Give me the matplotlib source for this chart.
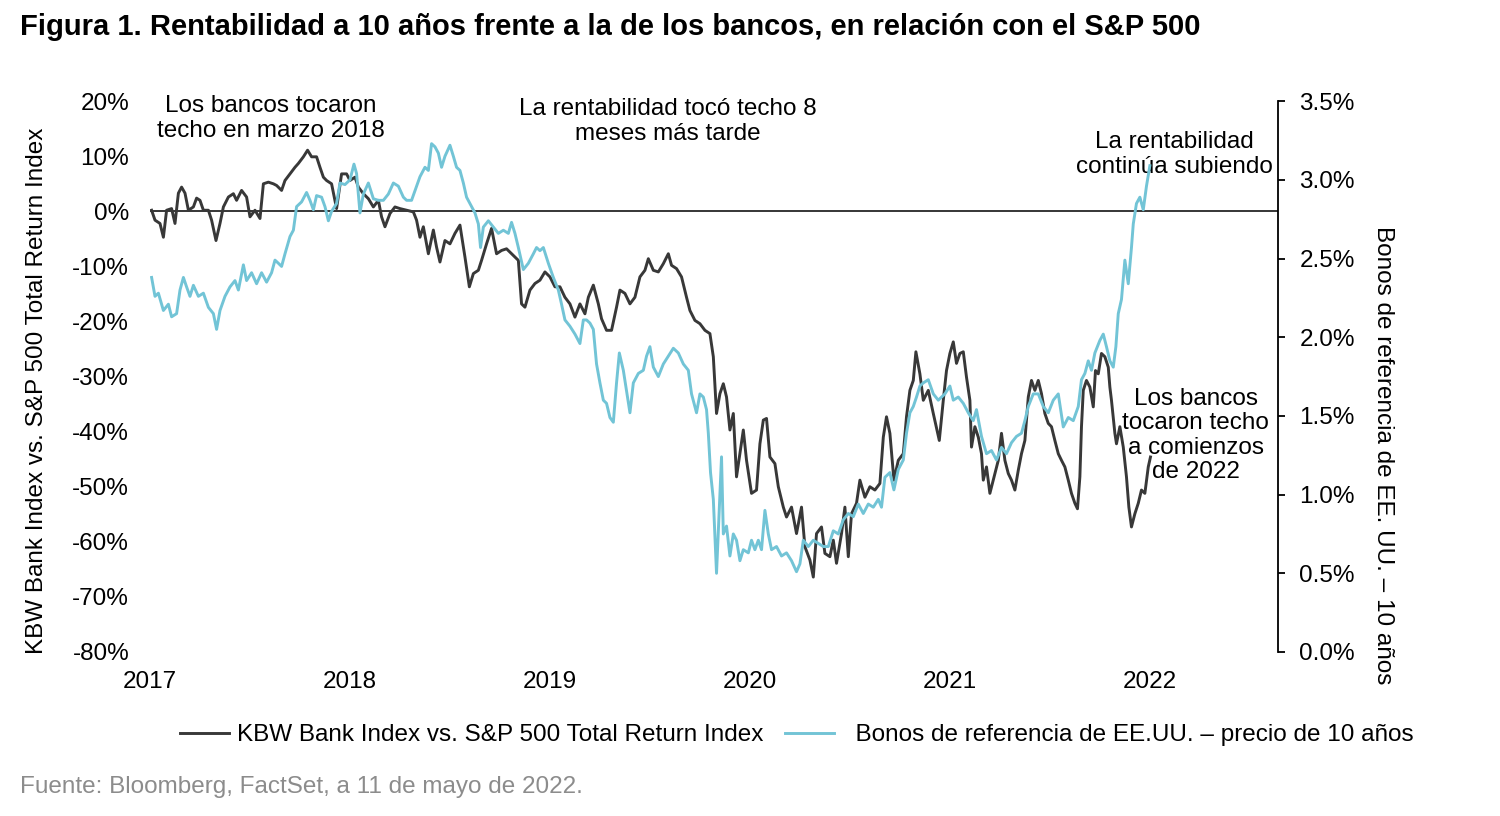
import matplotlib
matplotlib.use("Agg")
import matplotlib.pyplot as plt
from matplotlib.ticker import FuncFormatter
import numpy as np

plt.rcParams["font.family"] = ["Liberation Sans", "DejaVu Sans"]

# KBW Bank Index vs. S&P 500 Total Return Index (%)
bank_years = [2017.008, 2017.025, 2017.05, 2017.067, 2017.083, 2017.108, 2017.125, 2017.142, 2017.158, 2017.175,
              2017.192, 2017.217, 2017.233, 2017.25, 2017.267, 2017.292, 2017.308, 2017.33, 2017.35, 2017.367,
              2017.392, 2017.417, 2017.433, 2017.458, 2017.483, 2017.5, 2017.525, 2017.55, 2017.567, 2017.592,
              2017.617, 2017.633, 2017.658, 2017.675, 2017.70, 2017.725, 2017.742, 2017.767, 2017.788, 2017.808,
              2017.833, 2017.85, 2017.867, 2017.883, 2017.908, 2017.933, 2017.958, 2017.983, 2018.0, 2018.025,
              2018.042, 2018.067, 2018.092, 2018.117, 2018.142, 2018.158, 2018.175, 2018.20, 2018.225, 2018.25,
              2018.283, 2018.317, 2018.333, 2018.35, 2018.367, 2018.392, 2018.417, 2018.433, 2018.45, 2018.475,
              2018.50, 2018.525, 2018.55, 2018.575, 2018.597, 2018.617, 2018.642, 2018.658, 2018.683, 2018.708,
              2018.733, 2018.758, 2018.783, 2018.808, 2018.842, 2018.858, 2018.875, 2018.90, 2018.925, 2018.95,
              2018.975, 2019.0, 2019.025, 2019.05, 2019.075, 2019.10, 2019.125, 2019.15, 2019.175, 2019.192,
              2019.217, 2019.242, 2019.258, 2019.283, 2019.308, 2019.333, 2019.35, 2019.375, 2019.40, 2019.425,
              2019.45, 2019.475, 2019.492, 2019.517, 2019.542, 2019.567, 2019.592, 2019.608, 2019.633, 2019.658,
              2019.683, 2019.70, 2019.725, 2019.75, 2019.775, 2019.80, 2019.817, 2019.833, 2019.85, 2019.867,
              2019.883, 2019.90, 2019.917, 2019.933, 2019.95, 2019.967, 2019.983, 2020.008, 2020.033, 2020.05,
              2020.067, 2020.083, 2020.10, 2020.125, 2020.142, 2020.167, 2020.183, 2020.208, 2020.233, 2020.258,
              2020.275, 2020.30, 2020.317, 2020.333, 2020.358, 2020.375, 2020.40, 2020.417, 2020.433, 2020.458,
              2020.475, 2020.492, 2020.508, 2020.533, 2020.55, 2020.575, 2020.60, 2020.625, 2020.65, 2020.667,
              2020.683, 2020.70, 2020.72, 2020.742, 2020.767, 2020.783, 2020.80, 2020.817, 2020.83, 2020.85,
              2020.867, 2020.892, 2020.917, 2020.947, 2020.967, 2020.983, 2021.0, 2021.017, 2021.033, 2021.05,
              2021.067, 2021.083, 2021.10, 2021.108, 2021.125, 2021.142, 2021.158, 2021.167, 2021.183, 2021.20,
              2021.217, 2021.242, 2021.258, 2021.275, 2021.292, 2021.308, 2021.325, 2021.342, 2021.358, 2021.375,
              2021.392, 2021.408, 2021.425, 2021.442, 2021.458, 2021.475, 2021.492, 2021.508, 2021.525, 2021.542,
              2021.558, 2021.575, 2021.592, 2021.608, 2021.625, 2021.638, 2021.65, 2021.658, 2021.667, 2021.683,
              2021.70, 2021.717, 2021.728, 2021.742, 2021.758, 2021.775, 2021.792, 2021.80, 2021.808, 2021.825,
              2021.833, 2021.85, 2021.867, 2021.883, 2021.895, 2021.908, 2021.925, 2021.942, 2021.958, 2021.975,
              2021.992, 2022.003]
bank_vals = [0.2, -1.6, -2.2, -4.7, 0.2, 0.5, -2.2, 3.3, 4.4, 3.3,
             0.2, 0.8, 2.4, 2.0, 0.2, 0.2, -1.6, -5.3, -2.2, 0.8,
             2.6, 3.2, 2.0, 3.8, 2.6, -1.0, 0.2, -1.3, 5.0, 5.3,
             5.0, 4.7, 3.8, 5.6, 6.8, 8.0, 8.7, 9.9, 11.1, 9.9,
             9.9, 8.0, 6.2, 5.6, 5.0, 0.5, 6.8, 6.8, 5.6, 6.2,
             4.4, 3.2, 2.3, 0.8, 2.0, -1.0, -2.8, -0.4, 0.8, 0.5,
             0.2, -0.1, -1.6, -4.7, -2.8, -7.7, -3.4, -6.5, -9.2, -5.3,
             -5.9, -4.0, -2.5, -8.3, -13.7, -11.3, -10.7, -8.9, -5.9, -3.1,
             -7.7, -7.1, -6.8, -7.7, -8.9, -16.8, -17.4, -14.3, -13.1, -12.5,
             -11.0, -11.9, -13.7, -13.7, -15.6, -16.8, -19.2, -16.8, -18.6, -15.6,
             -13.4, -16.8, -19.5, -21.6, -21.6, -17.4, -14.3, -14.9, -16.8, -15.6,
             -11.9, -10.7, -8.6, -10.7, -11.0, -9.5, -7.7, -9.8, -10.4, -11.9,
             -15.6, -18.0, -19.8, -20.4, -21.6, -22.2, -26.4, -36.7, -33.1, -31.3,
             -33.7, -39.7, -36.7, -48.2, -44.0, -39.7, -45.2, -51.2, -50.6, -42.2,
             -37.9, -37.6, -44.6, -45.8, -50.0, -53.7, -55.5, -53.7, -58.5, -53.7,
             -60.9, -63.3, -66.4, -58.5, -57.3, -62.1, -62.7, -59.7, -63.9, -58.5,
             -53.7, -62.7, -54.9, -53.0, -48.8, -51.9, -50.0, -50.6, -49.4, -41.0,
             -37.3, -40.3, -48.8, -45.2, -44.0, -37.3, -32.5, -30.7, -25.5, -29.5,
             -34.3, -32.5, -36.7, -41.6, -34.3, -28.9, -25.8, -23.7, -27.6, -25.8,
             -25.5, -30.1, -34.3, -42.8, -39.1, -41.0, -44.0, -48.8, -46.4, -51.2,
             -48.8, -45.2, -40.3, -45.2, -47.6, -48.8, -50.6, -47.0, -44.0, -41.6,
             -33.7, -30.7, -32.5, -30.7, -33.1, -36.7, -38.5, -39.1, -41.6, -44.0,
             -45.2, -46.4, -48.8, -51.2, -53.0, -54.0, -48.2, -39.1, -32.5, -30.7,
             -31.9, -35.5, -28.9, -29.5, -25.8, -26.4, -28.3, -31.9, -34.3, -40.3,
             -42.2, -39.1, -42.8, -48.2, -53.7, -57.3, -54.9, -53.0, -50.6, -51.2,
             -46.4, -44.6]

# US 10-year benchmark yield (%)
yield_years = [2017.008, 2017.025, 2017.042, 2017.067, 2017.092, 2017.108, 2017.133, 2017.15, 2017.167, 2017.183,
               2017.20, 2017.217, 2017.242, 2017.267, 2017.292, 2017.317, 2017.333, 2017.35, 2017.375, 2017.40,
               2017.425, 2017.442, 2017.467, 2017.483, 2017.508, 2017.533, 2017.558, 2017.583, 2017.608, 2017.625,
               2017.642, 2017.658, 2017.675, 2017.70, 2017.717, 2017.733, 2017.758, 2017.783, 2017.80, 2017.817,
               2017.833, 2017.858, 2017.875, 2017.892, 2017.908, 2017.933, 2017.95, 2017.975, 2018.0, 2018.02,
               2018.033, 2018.05, 2018.067, 2018.092, 2018.117, 2018.142, 2018.167, 2018.192, 2018.217, 2018.242,
               2018.267, 2018.283, 2018.308, 2018.333, 2018.35, 2018.375, 2018.392, 2018.408, 2018.425, 2018.442,
               2018.458, 2018.475, 2018.50, 2018.517, 2018.533, 2018.55, 2018.567, 2018.583, 2018.608, 2018.625,
               2018.642, 2018.653, 2018.667, 2018.692, 2018.717, 2018.742, 2018.767, 2018.792, 2018.808, 2018.825,
               2018.842, 2018.867, 2018.892, 2018.917, 2018.933, 2018.95, 2018.967, 2018.992, 2019.017, 2019.042,
               2019.058, 2019.075, 2019.10, 2019.125, 2019.15, 2019.167, 2019.183, 2019.20, 2019.217, 2019.233,
               2019.25, 2019.267, 2019.283, 2019.30, 2019.317, 2019.333, 2019.347, 2019.367, 2019.383, 2019.40,
               2019.417, 2019.442, 2019.467, 2019.483, 2019.50, 2019.517, 2019.542, 2019.567, 2019.592, 2019.617,
               2019.642, 2019.667, 2019.692, 2019.708, 2019.733, 2019.75, 2019.767, 2019.783, 2019.792, 2019.803,
               2019.817, 2019.833, 2019.847, 2019.858, 2019.867, 2019.883, 2019.90, 2019.917, 2019.933, 2019.95,
               2019.967, 2019.992, 2020.008, 2020.025, 2020.042, 2020.058, 2020.075, 2020.092, 2020.108, 2020.133,
               2020.158, 2020.183, 2020.208, 2020.233, 2020.25, 2020.267, 2020.292, 2020.317, 2020.342, 2020.367,
               2020.392, 2020.417, 2020.442, 2020.467, 2020.492, 2020.517, 2020.542, 2020.567, 2020.592, 2020.617,
               2020.642, 2020.658, 2020.675, 2020.70, 2020.72, 2020.742, 2020.767, 2020.783, 2020.80, 2020.817,
               2020.833, 2020.85, 2020.867, 2020.892, 2020.917, 2020.942, 2020.975, 2021.0, 2021.017, 2021.042,
               2021.067, 2021.092, 2021.117, 2021.133, 2021.158, 2021.183, 2021.208, 2021.233, 2021.258, 2021.283,
               2021.308, 2021.333, 2021.358, 2021.375, 2021.392, 2021.417, 2021.442, 2021.467, 2021.492, 2021.517,
               2021.542, 2021.567, 2021.592, 2021.617, 2021.642, 2021.658, 2021.675, 2021.692, 2021.708, 2021.725,
               2021.75, 2021.767, 2021.783, 2021.80, 2021.817, 2021.83, 2021.842, 2021.858, 2021.875, 2021.892,
               2021.908, 2021.917, 2021.933, 2021.95, 2021.967, 2021.983, 2022.0]
yield_vals = [2.38, 2.26, 2.28, 2.17, 2.21, 2.13, 2.15, 2.30, 2.38, 2.32,
              2.26, 2.33, 2.26, 2.28, 2.19, 2.15, 2.05, 2.17, 2.26, 2.32,
              2.36, 2.30, 2.46, 2.36, 2.41, 2.34, 2.41, 2.35, 2.41, 2.49,
              2.47, 2.45, 2.53, 2.64, 2.68, 2.83, 2.86, 2.92, 2.87, 2.81,
              2.90, 2.89, 2.83, 2.74, 2.80, 2.85, 2.98, 2.97, 3.00, 3.10,
              3.04, 2.79, 2.91, 2.98, 2.88, 2.87, 2.87, 2.91, 2.98, 2.96,
              2.89, 2.87, 2.87, 2.96, 3.02, 3.08, 3.06, 3.23, 3.21, 3.17,
              3.08, 3.15, 3.22, 3.15, 3.08, 3.06, 2.98, 2.89, 2.83, 2.79,
              2.72, 2.57, 2.70, 2.74, 2.70, 2.66, 2.68, 2.66, 2.73, 2.66,
              2.57, 2.43, 2.47, 2.53, 2.57, 2.55, 2.57, 2.47, 2.38, 2.30,
              2.21, 2.11, 2.07, 2.02, 1.96, 2.11, 2.11, 2.09, 2.05, 1.83,
              1.71, 1.60, 1.58, 1.49, 1.46, 1.71, 1.90, 1.79, 1.66, 1.52,
              1.71, 1.77, 1.79, 1.88, 1.94, 1.81, 1.75, 1.83, 1.88, 1.93,
              1.90, 1.83, 1.79, 1.64, 1.52, 1.64, 1.62, 1.54, 1.39, 1.14,
              0.97, 0.50, 0.92, 1.24, 0.75, 0.80, 0.61, 0.75, 0.71, 0.58,
              0.65, 0.63, 0.71, 0.65, 0.71, 0.65, 0.90, 0.75, 0.65, 0.67,
              0.61, 0.63, 0.58, 0.51, 0.56, 0.71, 0.67, 0.71, 0.69, 0.67,
              0.67, 0.77, 0.75, 0.84, 0.88, 0.86, 0.94, 0.88, 0.94, 0.92,
              0.97, 0.92, 1.11, 1.14, 1.03, 1.16, 1.22, 1.39, 1.52, 1.56,
              1.62, 1.69, 1.71, 1.73, 1.64, 1.60, 1.64, 1.69, 1.60, 1.62,
              1.58, 1.52, 1.47, 1.54, 1.37, 1.26, 1.28, 1.22, 1.30, 1.26,
              1.33, 1.37, 1.39, 1.47, 1.56, 1.64, 1.64, 1.56, 1.52, 1.60,
              1.64, 1.43, 1.49, 1.47, 1.56, 1.73, 1.77, 1.85, 1.79, 1.90,
              1.98, 2.02, 1.94, 1.85, 1.81, 1.94, 2.15, 2.24, 2.49, 2.34,
              2.57, 2.72, 2.85, 2.89, 2.81, 2.96, 3.09]

year_ticks = [2017, 2018, 2019, 2020, 2021, 2022]
left_ticks = np.arange(-80, 21, 10)
right_ticks = np.arange(0, 3.51, 0.5)

dark = "#383838"
teal = "#72c4d6"
fs = 17.5

fig = plt.figure(figsize=(15, 8.16), dpi=100)
ax = fig.add_axes([0.1, 0.201, 0.7523, 0.675])
ax2 = ax.twinx()

l1, = ax.plot(bank_years, bank_vals, color=dark, lw=2.1,
              label="KBW Bank Index vs. S&P 500 Total Return Index")
l2, = ax2.plot(yield_years, yield_vals, color=teal, lw=2.1,
               label="  Bonos de referencia de EE.UU. – precio de 10 años")
ax.axhline(0, color="black", lw=1.1, zorder=1)

ax.set_xlim(2017, 2022.643)
ax.set_ylim(-80, 20)
ax2.set_ylim(0, 3.5)

ax.set_xticks(year_ticks)
ax.set_xticklabels([str(y) for y in year_ticks])
ax.set_yticks(left_ticks)
ax.yaxis.set_major_formatter(FuncFormatter(lambda v, p: f"{v:.0f}%"))
ax2.set_yticks(right_ticks)
ax2.yaxis.set_major_formatter(FuncFormatter(lambda v, p: f"{v:.1f}%"))

for a in (ax, ax2):
    for s in ("top", "left", "bottom", "right"):
        a.spines[s].set_visible(False)
ax2.spines["right"].set_visible(True)
ax2.spines["right"].set_linewidth(1.3)

ax.tick_params(axis="x", length=0, pad=14, labelsize=fs)
ax.tick_params(axis="y", length=0, pad=15, labelsize=fs)
ax2.tick_params(axis="y", length=5, width=1.3, direction="out", pad=10, labelsize=fs)

ax.set_ylabel("KBW Bank Index vs. S&P 500 Total Return Index", fontsize=fs)
ax.yaxis.set_label_coords(-0.0905, 0.474)
ax2.set_ylabel("Bonos de referencia de EE. UU. – 10 años", fontsize=fs,
               rotation=-90, va="bottom")
ax2.yaxis.set_label_coords(1.083, 0.357)

ax.text(2017.605, 16.9, "Los bancos tocaron\ntecho en marzo 2018", fontsize=fs,
        ha="center", va="center", linespacing=1.15)
ax.text(2019.59, 16.3, "La rentabilidad tocó techo 8\nmeses más tarde", fontsize=fs,
        ha="center", va="center", linespacing=1.15)
ax.text(2022.125, 10.3, "La rentabilidad\ncontinúa subiendo", fontsize=fs,
        ha="center", va="center", linespacing=1.15, zorder=5)
ax.text(2022.23, -40.7, "Los bancos\ntocaron techo\na comienzos\nde 2022", fontsize=fs,
        ha="center", va="center", linespacing=1.15, zorder=5)

fig.text(20 / 1500, 1 - 27 / 816,
         "Figura 1. Rentabilidad a 10 años frente a la de los bancos, en relación con el S&P 500",
         fontsize=21, fontweight="bold", ha="left", va="center")
fig.legend(handles=[l1, l2], loc="center", bbox_to_anchor=(797 / 1500, 1 - 735 / 816),
           ncol=2, frameon=False, fontsize=fs, handlelength=2.0, handletextpad=0.35,
           columnspacing=0.87)
fig.text(20 / 1500, 1 - 787 / 816, "Fuente: Bloomberg, FactSet, a 11 de mayo de 2022.",
         fontsize=fs, color="#8c8c8c", ha="left", va="center")

fig.savefig("out.png", dpi=100)
